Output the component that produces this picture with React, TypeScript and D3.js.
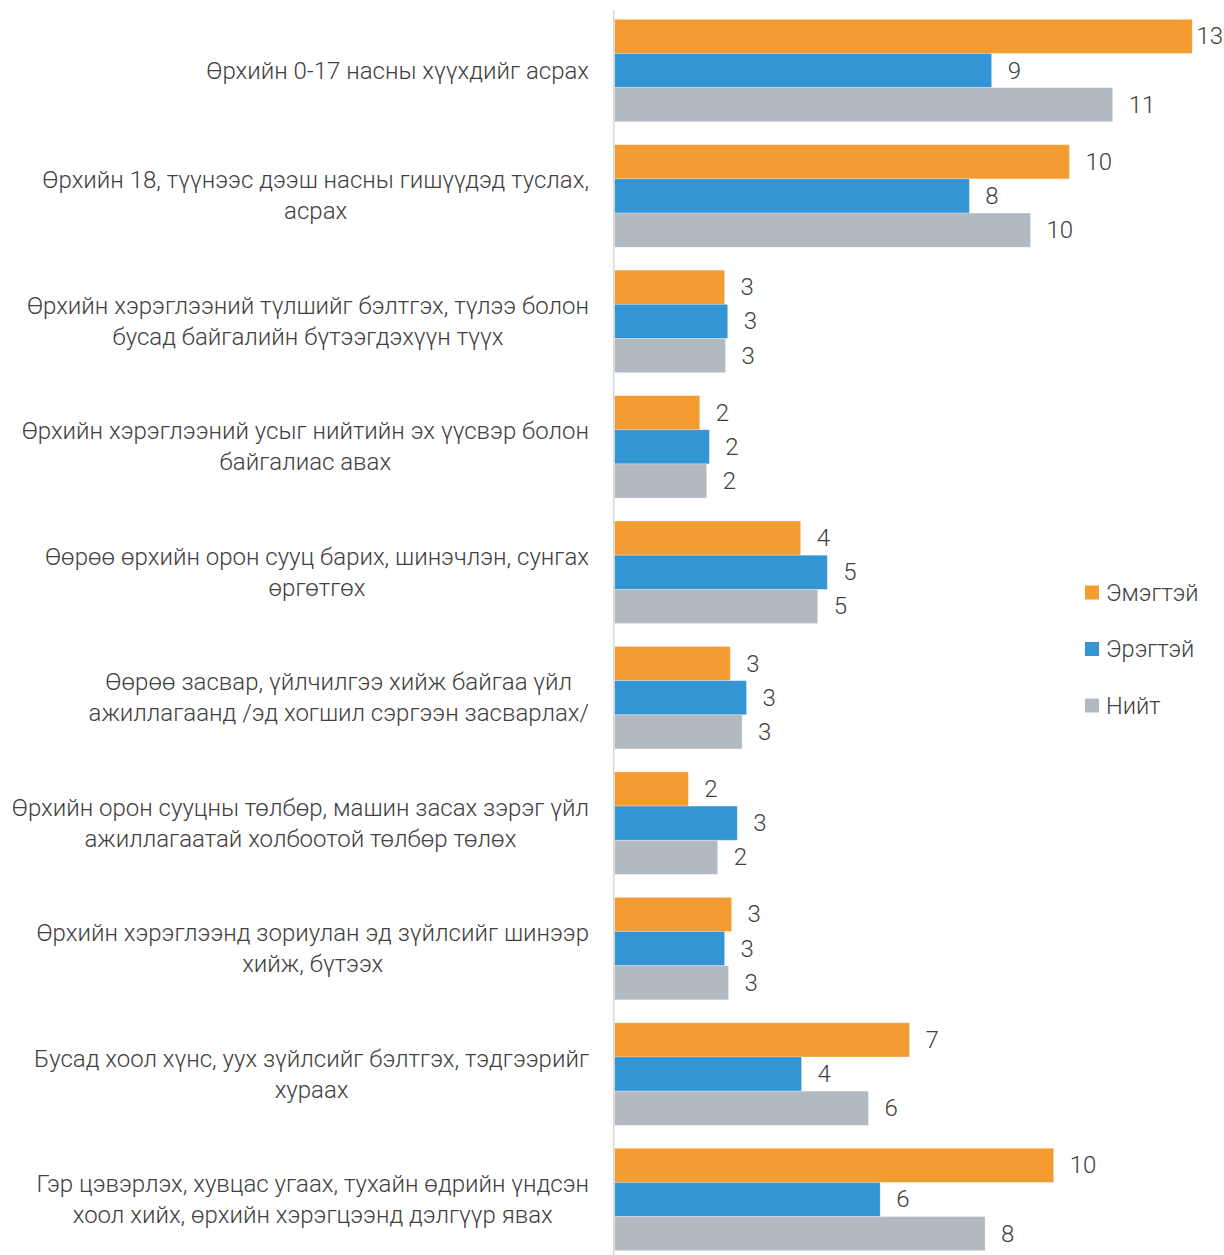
import React, { useEffect, useRef } from "react";
import * as d3 from "d3";

const categories: string[] = [
  "Өрхийн 0-17 насны хүүхдийг асрах",
  "Өрхийн 18, түүнээс дээш насны гишүүдэд туслах,\nасрах",
  "Өрхийн хэрэглээний түлшийг бэлтгэх, түлээ болон\nбусад байгалийн бүтээгдэхүүн түүх",
  "Өрхийн хэрэглээний усыг нийтийн эх үүсвэр болон\nбайгалиас авах",
  "Өөрөө өрхийн орон сууц барих, шинэчлэн, сунгах\nөргөтгөх",
  "Өөрөө засвар, үйлчилгээ хийж байгаа үйл\nажиллагаанд /эд хогшил сэргээн засварлах/",
  "Өрхийн орон сууцны төлбөр, машин засах зэрэг үйл\nажиллагаатай холбоотой төлбөр төлөх",
  "Өрхийн хэрэглээнд зориулан эд зүйлсийг шинээр\nхийж, бүтээх",
  "Бусад хоол хүнс, уух зүйлсийг бэлтгэх, тэдгээрийг\nхураах",
  "Гэр цэвэрлэх, хувцас угаах, тухайн өдрийн үндсэн\nхоол хийх, өрхийн хэрэгцээнд дэлгүүр явах",
];

const seriesNames: string[] = ["Эмэгтэй", "Эрэгтэй", "Нийт"];
const seriesColors: string[] = ["#F39C32", "#3395D3", "#B2B9C0"];

const female: number[] = [13.22, 10.41, 2.52, 1.95, 4.26, 2.65, 1.69, 2.68, 6.75, 10.05];
const male: number[] = [8.63, 8.12, 2.59, 2.17, 4.87, 3.02, 2.81, 2.52, 4.28, 6.08];
const total: number[] = [11.4, 9.52, 2.54, 2.11, 4.65, 2.92, 2.36, 2.61, 5.81, 8.48];

const W = 1224;
const H = 1255;
const FONT = "Roboto, 'Noto Sans', sans-serif";
const TEXT = "#404040";
const FS = 24;

export default function App() {
  const ref = useRef<SVGSVGElement>(null);

  useEffect(() => {
    const svg = d3.select(ref.current);
    svg.selectAll("*").remove();

    const seriesData = [female, male, total];

    const x = d3.scaleLinear().domain([0, 14]).range([614.5, 614.5 + 14 * 43.7]);
    const y = d3
      .scaleBand<number>()
      .domain(d3.range(categories.length))
      .range([7.8, 1262.2])
      .paddingInner(0.183)
      .paddingOuter(0.0915);
    const ySub = d3
      .scaleBand<number>()
      .domain(d3.range(seriesNames.length))
      .range([0, y.bandwidth()]);

    const groups = svg
      .selectAll("g.grp")
      .data(categories)
      .join("g")
      .attr("class", "grp")
      .attr("transform", (_, i) => `translate(0,${y(i)})`);

    groups.each(function (_, ci) {
      const g = d3.select(this);
      seriesData.forEach((vals, si) => {
        const v = vals[ci];
        g.append("rect")
          .attr("x", x(0))
          .attr("y", ySub(si)!)
          .attr("width", x(v) - x(0))
          .attr("height", ySub.bandwidth())
          .attr("fill", seriesColors[si])
          .attr("stroke", "#ffffff")
          .attr("stroke-opacity", 0.35)
          .attr("stroke-width", 0.8);
        const label = d3.format(".0f")(v);
        const t = g
          .append("text")
          .attr("y", ySub(si)! + ySub.bandwidth() / 2)
          .attr("dominant-baseline", "central")
          .attr("font-family", FONT)
          .attr("font-weight", 300)
          .attr("font-size", FS)
          .attr("fill", TEXT)
          .text(label);
        const tw = (t.node() as SVGTextElement).getComputedTextLength();
        let lx = x(v) + 16;
        if (lx + tw > W - 1) lx = W - 1 - tw;
        t.attr("x", lx);
      });
    });

    svg
      .append("line")
      .attr("x1", 613.8)
      .attr("x2", 613.8)
      .attr("y1", 10)
      .attr("y2", H)
      .attr("stroke", "#D9D9D9")
      .attr("stroke-width", 1.5);

    const right = 589;
    const lineH = 31;
    categories.forEach((cat, ci) => {
      const lines = cat.split("\n");
      const cy = y(ci)! + y.bandwidth() / 2;
      const texts = lines.map((ln, li) =>
        svg
          .append("text")
          .attr("y", cy + (li - (lines.length - 1) / 2) * lineH)
          .attr("dominant-baseline", "central")
          .attr("text-anchor", "middle")
          .attr("font-family", FONT)
          .attr("font-weight", 300)
          .attr("font-size", FS)
          .attr("fill", TEXT)
          .text(ln)
      );
      const widths = texts.map((t) => (t.node() as SVGTextElement).getComputedTextLength());
      const maxW = Math.max(...widths);
      texts.forEach((t) => t.attr("x", right - maxW / 2));
    });

    const legendY = [592.5, 649, 705.5];
    seriesNames.forEach((name, si) => {
      svg
        .append("rect")
        .attr("x", 1085)
        .attr("y", legendY[si] - 7)
        .attr("width", 14)
        .attr("height", 14)
        .attr("fill", seriesColors[si]);
      svg
        .append("text")
        .attr("x", 1106)
        .attr("y", legendY[si])
        .attr("dominant-baseline", "central")
        .attr("font-family", FONT)
        .attr("font-weight", 300)
        .attr("font-size", 23.6)
        .attr("fill", TEXT)
        .text(name);
    });
  }, []);

  return (
    <svg
      ref={ref}
      width={W}
      height={H}
      style={{ position: "absolute", left: 0, top: 0, background: "#ffffff" }}
    />
  );
}
